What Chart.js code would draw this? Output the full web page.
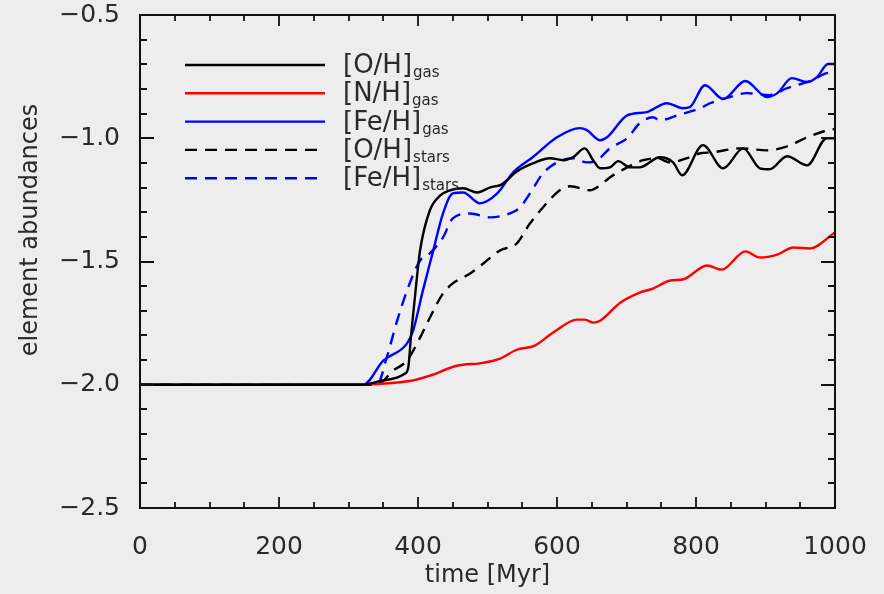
<!DOCTYPE html>
<html>
<head>
<meta charset="utf-8">
<script src="https://cdn.jsdelivr.net/npm/chart.js@4.4.1/dist/chart.umd.min.js"></script>
<style>
  html, body { margin: 0; padding: 0; background: #ededed; }
  canvas { display: block; }
</style>
</head>
<body>
<canvas id="chart" width="884" height="594"></canvas>
<script>
// time [Myr] and abundances, one pair of arrays per curve
const tOGas = [0, 319, 345, 381, 386, 390, 395, 403, 417, 432, 446, 465, 485, 504, 520, 542, 565, 590, 609, 623, 640, 652, 662, 676, 688, 705, 719, 748, 767, 780, 810, 839, 868, 892, 906, 931, 960, 988, 1000];
const oGas  = [-2.0, -2.0, -1.985, -1.955, -1.93, -1.80, -1.66, -1.455, -1.293, -1.232, -1.211, -1.203, -1.220, -1.199, -1.188, -1.135, -1.102, -1.081, -1.089, -1.077, -1.041, -1.089, -1.122, -1.118, -1.093, -1.118, -1.118, -1.077, -1.098, -1.150, -1.028, -1.122, -1.041, -1.122, -1.126, -1.073, -1.110, -1.000, -1.000];

const tNGas = [0, 321, 388, 417, 456, 494, 518, 542, 568, 594, 629, 640, 652, 662, 691, 719, 738, 763, 781, 816, 837, 871, 892, 917, 940, 964, 1000];
const nGas  = [-2.0, -1.998, -1.985, -1.963, -1.923, -1.911, -1.894, -1.858, -1.841, -1.789, -1.736, -1.736, -1.748, -1.740, -1.667, -1.626, -1.610, -1.577, -1.573, -1.516, -1.533, -1.459, -1.484, -1.472, -1.443, -1.447, -1.382];

const tFeGas = [0, 321, 350, 384, 393, 407, 422, 436, 450, 465, 489, 514, 537, 565, 600, 633, 643, 662, 672, 701, 729, 758, 781, 791, 813, 839, 871, 902, 917, 938, 960, 974, 990, 1000];
const feGas  = [-2.0, -2.0, -1.902, -1.833, -1.78, -1.618, -1.455, -1.305, -1.224, -1.220, -1.264, -1.224, -1.138, -1.077, -0.996, -0.959, -0.967, -1.008, -0.996, -0.907, -0.894, -0.858, -0.878, -0.874, -0.785, -0.841, -0.768, -0.833, -0.817, -0.756, -0.772, -0.752, -0.699, -0.699];

const tOStars = [0, 341, 364, 384, 403, 417, 436, 450, 475, 494, 518, 542, 561, 580, 604, 619, 647, 662, 676, 701, 724, 744, 763, 787, 806, 824, 863, 902, 931, 960, 990, 1000];
const oStars  = [-2.0, -2.0, -1.943, -1.902, -1.809, -1.728, -1.630, -1.589, -1.549, -1.508, -1.455, -1.427, -1.346, -1.280, -1.211, -1.195, -1.211, -1.191, -1.159, -1.118, -1.089, -1.081, -1.098, -1.081, -1.061, -1.057, -1.041, -1.049, -1.033, -0.996, -0.967, -0.963];

const tFeStars = [0, 341, 355, 363, 370, 388, 403, 417, 436, 450, 475, 504, 532, 547, 561, 580, 600, 623, 643, 658, 676, 701, 719, 738, 748, 773, 806, 820, 849, 873, 906, 931, 968, 988, 1000];
const feStars  = [-2.0, -2.0, -1.89, -1.81, -1.74, -1.589, -1.496, -1.467, -1.402, -1.325, -1.305, -1.321, -1.305, -1.280, -1.224, -1.142, -1.098, -1.081, -1.098, -1.089, -1.041, -1.000, -0.939, -0.915, -0.927, -0.907, -0.878, -0.858, -0.833, -0.817, -0.825, -0.797, -0.764, -0.736, -0.734];

const legendMain = ['[O/H]', '[N/H]', '[Fe/H]', '[O/H]', '[Fe/H]'];
const legendSub = ['gas', 'gas', 'gas', 'stars', 'stars'];

const FONT = '"DejaVu Sans", sans-serif';
const INK = '#2a2a2a';

function pts(t, v) {
    return t.map((x, i) => ({ x: x, y: v[i] }));
}

// frame, inward IDL-style ticks, axis titles and the legend
const framePlugin = {
    id: 'frame',
    beforeDraw(chart) {
        const ctx = chart.ctx;
        ctx.save();
        ctx.fillStyle = '#ededed';
        ctx.fillRect(0, 0, chart.width, chart.height);
        ctx.restore();
    },
    afterDatasetsDraw(chart) {
        const ctx = chart.ctx;
        const a = chart.chartArea;
        const xs = chart.scales.x;
        const ys = chart.scales.y;
        ctx.save();
        ctx.strokeStyle = '#111';
        ctx.lineWidth = 2;
        ctx.strokeRect(a.left, a.top, a.right - a.left, a.bottom - a.top);

        ctx.lineWidth = 1.8;
        ctx.beginPath();
        for (let v = 0; v <= 1000; v += 50) {
            const px = Math.round(xs.getPixelForValue(v));
            const len = v % 200 === 0 ? 11 : 6;
            ctx.moveTo(px, a.bottom); ctx.lineTo(px, a.bottom - len);
            ctx.moveTo(px, a.top); ctx.lineTo(px, a.top + len);
        }
        for (let k = -25; k <= -5; k++) {
            const py = Math.round(ys.getPixelForValue(k / 10));
            const len = k % 5 === 0 ? 14 : 7;
            ctx.moveTo(a.left, py); ctx.lineTo(a.left + len, py);
            ctx.moveTo(a.right, py); ctx.lineTo(a.right - len, py);
        }
        ctx.stroke();

        // axis titles
        ctx.fillStyle = INK;
        ctx.font = '24px ' + FONT;
        ctx.textAlign = 'center';
        ctx.textBaseline = 'middle';
        ctx.fillText('time [Myr]', (a.left + a.right) / 2, 576);
        ctx.save();
        ctx.translate(31, 230);
        ctx.rotate(-Math.PI / 2);
        ctx.fillText('element abundances', 0, 0);
        ctx.restore();

        // legend
        const rowTop = 65, rowStep = 28.3;
        chart.data.datasets.forEach((ds, i) => {
            const y = rowTop + i * rowStep;
            ctx.save();
            ctx.strokeStyle = ds.borderColor;
            ctx.lineWidth = ds.borderWidth;
            ctx.setLineDash(ds.borderDash || []);
            ctx.beginPath();
            ctx.moveTo(185, y);
            ctx.lineTo(325, y);
            ctx.stroke();
            ctx.restore();

            ctx.textAlign = 'left';
            ctx.textBaseline = 'alphabetic';
            ctx.font = '26px ' + FONT;
            ctx.fillText(legendMain[i], 343, y + 8);
            const w = ctx.measureText(legendMain[i]).width;
            ctx.font = '15px ' + FONT;
            ctx.fillText(legendSub[i], 343 + w + 1, y + 12);
        });
        ctx.restore();
    }
};

const lineStyle = { borderWidth: 2.4, pointRadius: 0, cubicInterpolationMode: 'monotone', fill: false };

new Chart(document.getElementById('chart'), {
    type: 'line',
    data: {
        datasets: [
            { ...lineStyle, label: '[O/H]gas', data: pts(tOGas, oGas), borderColor: '#000000' },
            { ...lineStyle, label: '[N/H]gas', data: pts(tNGas, nGas), borderColor: '#ff0000' },
            { ...lineStyle, label: '[Fe/H]gas', data: pts(tFeGas, feGas), borderColor: '#0000ff' },
            { ...lineStyle, label: '[O/H]stars', data: pts(tOStars, oStars), borderColor: '#000000', borderDash: [12, 8] },
            { ...lineStyle, label: '[Fe/H]stars', data: pts(tFeStars, feStars), borderColor: '#0000ff', borderDash: [12, 8] }
        ]
    },
    options: {
        responsive: false,
        animation: false,
        devicePixelRatio: 1,
        layout: { padding: { top: 15, right: 49, left: 0, bottom: 0 } },
        plugins: {
            legend: { display: false },
            tooltip: { enabled: false }
        },
        scales: {
            x: {
                type: 'linear',
                min: 0,
                max: 1000,
                grid: { display: false },
                border: { display: false },
                ticks: {
                    stepSize: 200,
                    color: INK,
                    padding: 16,
                    maxRotation: 0,
                    font: { family: FONT, size: 25 },
                    callback: v => String(v)
                },
                afterFit: s => { s.height = 86; s.paddingLeft = 0; s.paddingRight = 0; }
            },
            y: {
                min: -2.5,
                max: -0.5,
                grid: { display: false },
                border: { display: false },
                ticks: {
                    stepSize: 0.5,
                    color: INK,
                    padding: 12,
                    font: { family: FONT, size: 25 },
                    callback: v => (v < 0 ? '\u2212' : '') + Math.abs(v).toFixed(1)
                },
                afterFit: s => { s.width = 140; s.paddingTop = 0; s.paddingBottom = 0; }
            }
        }
    },
    plugins: [framePlugin]
});
</script>
</body>
</html>
